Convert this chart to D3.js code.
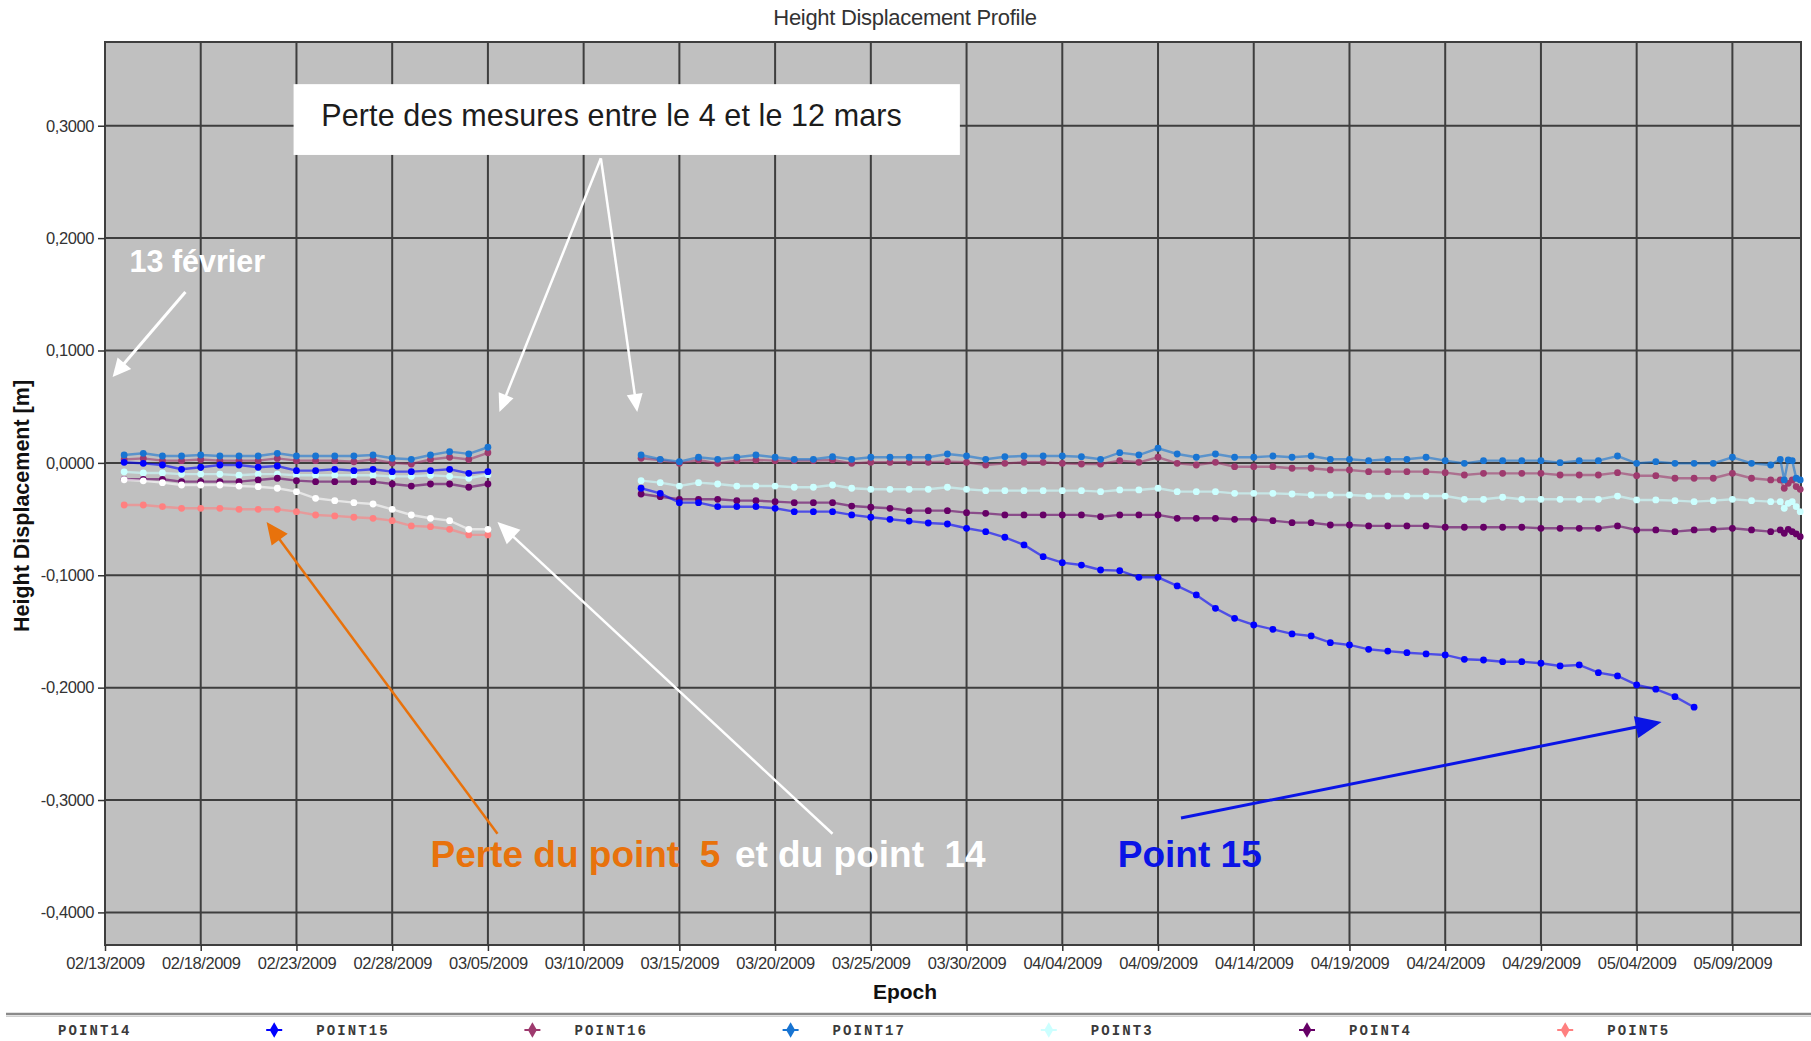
<!DOCTYPE html>
<html>
<head>
<meta charset="utf-8">
<script src="https://cdn.jsdelivr.net/npm/d3@7"></script>
<style>
  html, body { margin: 0; padding: 0; background: #ffffff; }
  svg { display: block; }
  text { white-space: pre; }
</style>
</head>
<body>
<svg id="chart" width="1811" height="1041"></svg>
<script>
// ---------------------------------------------------------------
// Height displacement of the monitored points (metres)
// ---------------------------------------------------------------
const seriesNames  = ["POINT14", "POINT15", "POINT16", "POINT17", "POINT3", "POINT4", "POINT5"];
const seriesColors = ["#ffffff", "#0000ff", "#9e3a6e", "#1874d2", "#ccffff", "#660066", "#ff8080"];

// Measurement epochs: daily 14 Feb - 5 Mar, gap, daily 13 Mar - 11 May, then a few sub-daily fixes
const epochsFeb = d3.utcDay.range(Date.UTC(2009, 1, 14), Date.UTC(2009, 2, 6));   // 20 days
const epochsMar = d3.utcDay.range(Date.UTC(2009, 2, 13), Date.UTC(2009, 4, 12));  // 60 days
const epochsEnd = ["2009-05-11T12:00Z", "2009-05-11T17:00Z", "2009-05-11T22:00Z",
                   "2009-05-12T03:00Z", "2009-05-12T08:00Z", "2009-05-12T13:00Z"].map(s => new Date(s));

// First period (14 Feb - 5 Mar)
const p14Feb = [-0.0150, -0.0160, -0.0176, -0.0197, -0.0197, -0.0197, -0.0206, -0.0212, -0.0226, -0.0256,
                -0.0315, -0.0336, -0.0354, -0.0366, -0.0413, -0.0464, -0.0493, -0.0514, -0.0591, -0.0591];
const p15Feb = [0.0005, -0.0004, -0.0019, -0.0057, -0.0039, -0.0019, -0.0019, -0.0039, -0.0028, -0.0069,
                -0.0069, -0.0057, -0.0069, -0.0057, -0.0078, -0.0078, -0.0069, -0.0057, -0.0093, -0.0078];
const p16Feb = [0.0030, 0.0040, 0.0020, 0.0020, 0.0030, 0.0020, 0.0020, 0.0020, 0.0040, 0.0020,
                0.0020, 0.0020, 0.0010, 0.0030, 0.0000, -0.0010, 0.0030, 0.0050, 0.0030, 0.0090];
const p17Feb = [0.0070, 0.0085, 0.0061, 0.0061, 0.0070, 0.0061, 0.0061, 0.0061, 0.0085, 0.0061,
                0.0061, 0.0061, 0.0061, 0.0070, 0.0041, 0.0032, 0.0070, 0.0100, 0.0080, 0.0139];
const p3Feb  = [-0.0080, -0.0090, -0.0090, -0.0100, -0.0100, -0.0100, -0.0110, -0.0100, -0.0100, -0.0110,
                -0.0110, -0.0110, -0.0110, -0.0110, -0.0120, -0.0120, -0.0110, -0.0120, -0.0137, -0.0105];
const p4Feb  = [-0.0146, -0.0146, -0.0146, -0.0167, -0.0167, -0.0167, -0.0167, -0.0152, -0.0137, -0.0158,
                -0.0167, -0.0167, -0.0167, -0.0167, -0.0188, -0.0206, -0.0188, -0.0188, -0.0217, -0.0188];
const p5Feb  = [-0.0375, -0.0375, -0.0390, -0.0404, -0.0404, -0.0404, -0.0413, -0.0413, -0.0413, -0.0434,
                -0.0464, -0.0472, -0.0484, -0.0493, -0.0514, -0.0561, -0.0568, -0.0591, -0.0641, -0.0641];

// Second period (13 Mar onwards)
const p15Mar = [-0.0226, -0.0271, -0.0354, -0.0354, -0.0390, -0.0390, -0.0390, -0.0404, -0.0434, -0.0434,
                -0.0434, -0.0463, -0.0484, -0.0502, -0.0518, -0.0535, -0.0544, -0.0582, -0.0612, -0.0662,
                -0.0730, -0.0835, -0.0888, -0.0909, -0.0953, -0.0959, -0.1018, -0.1018, -0.1095, -0.1175,
                -0.1294, -0.1383, -0.1442, -0.1481, -0.1522, -0.1540, -0.1600, -0.1620, -0.1659, -0.1675,
                -0.1689, -0.1700, -0.1709, -0.1748, -0.1754, -0.1769, -0.1769, -0.1783, -0.1807, -0.1798,
                -0.1867, -0.1896, -0.1976, -0.2014, -0.2080, -0.2174];
const p16Mar = [0.0041, 0.0026, -0.0004, 0.0026, -0.0004, 0.0020, 0.0026, 0.0020, 0.0020, 0.0020,
                0.0026, -0.0004, 0.0005, 0.0005, 0.0005, 0.0005, 0.0011, 0.0005, -0.0019, -0.0004,
                0.0005, 0.0005, -0.0004, -0.0010, -0.0010, 0.0020, 0.0005, 0.0050, -0.0004, -0.0019,
                0.0005, -0.0034, -0.0034, -0.0034, -0.0048, -0.0048, -0.0063, -0.0063, -0.0078, -0.0078,
                -0.0078, -0.0078, -0.0087, -0.0108, -0.0093, -0.0093, -0.0093, -0.0093, -0.0108, -0.0108,
                -0.0108, -0.0087, -0.0114, -0.0114, -0.0137, -0.0137, -0.0137, -0.0093, -0.0137, -0.0152];
const p17Mar = [0.0070, 0.0032, 0.0011, 0.0050, 0.0032, 0.0050, 0.0070, 0.0050, 0.0032, 0.0032,
                0.0055, 0.0032, 0.0050, 0.0050, 0.0050, 0.0050, 0.0079, 0.0061, 0.0032, 0.0055,
                0.0061, 0.0061, 0.0061, 0.0055, 0.0032, 0.0091, 0.0070, 0.0130, 0.0079, 0.0050,
                0.0079, 0.0050, 0.0050, 0.0061, 0.0050, 0.0061, 0.0032, 0.0032, 0.0020, 0.0032,
                0.0032, 0.0050, 0.0020, -0.0004, 0.0020, 0.0020, 0.0020, 0.0020, 0.0002, 0.0020,
                0.0020, 0.0061, -0.0004, 0.0011, -0.0004, -0.0004, -0.0004, 0.0050, -0.0004, -0.0019];
const p3Mar  = [-0.0158, -0.0176, -0.0206, -0.0176, -0.0188, -0.0206, -0.0206, -0.0206, -0.0217, -0.0217,
                -0.0197, -0.0226, -0.0235, -0.0235, -0.0235, -0.0235, -0.0217, -0.0235, -0.0247, -0.0247,
                -0.0247, -0.0247, -0.0247, -0.0247, -0.0256, -0.0241, -0.0241, -0.0226, -0.0256, -0.0256,
                -0.0256, -0.0271, -0.0271, -0.0271, -0.0277, -0.0286, -0.0286, -0.0286, -0.0295, -0.0295,
                -0.0295, -0.0295, -0.0295, -0.0324, -0.0324, -0.0306, -0.0324, -0.0324, -0.0324, -0.0324,
                -0.0324, -0.0295, -0.0330, -0.0330, -0.0336, -0.0345, -0.0336, -0.0324, -0.0336, -0.0345];
const p4Mar  = [-0.0277, -0.0301, -0.0324, -0.0324, -0.0324, -0.0336, -0.0336, -0.0345, -0.0354, -0.0354,
                -0.0354, -0.0384, -0.0395, -0.0404, -0.0425, -0.0425, -0.0425, -0.0443, -0.0449, -0.0463,
                -0.0463, -0.0463, -0.0463, -0.0463, -0.0479, -0.0463, -0.0463, -0.0463, -0.0493, -0.0493,
                -0.0493, -0.0502, -0.0502, -0.0514, -0.0532, -0.0532, -0.0553, -0.0553, -0.0561, -0.0561,
                -0.0561, -0.0561, -0.0573, -0.0573, -0.0573, -0.0573, -0.0573, -0.0582, -0.0582, -0.0582,
                -0.0582, -0.0561, -0.0597, -0.0597, -0.0612, -0.0597, -0.0591, -0.0582, -0.0597, -0.0612];

// Final sub-daily fixes (11-12 May)
const p16End = [-0.0152, -0.0226, -0.0182, -0.0152, -0.0211, -0.0235];
const p17End = [0.0032, -0.0152, 0.0026, 0.0020, -0.0137, -0.0152];
const p3End  = [-0.0345, -0.0404, -0.0360, -0.0345, -0.0390, -0.0434];
const p4End  = [-0.0597, -0.0626, -0.0591, -0.0612, -0.0632, -0.0657];

// Axis ticks
const yTicks = [-0.4, -0.3, -0.2, -0.1, 0, 0.1, 0.2, 0.3];
const xStart = new Date(Date.UTC(2009, 1, 13));
const xEnd   = new Date(Date.UTC(2009, 4, 12, 14));
const xTickDates = d3.utcDay.range(xStart, xEnd, 5);

// ---------------------------------------------------------------
// Build the segments of each series (a new segment after a data gap)
// ---------------------------------------------------------------
function seg(epochs, values) {
  return values.map((v, i) => ({ t: epochs[i], v }));
}
const seriesSegments = [
  [seg(epochsFeb, p14Feb)],
  [seg(epochsFeb, p15Feb), seg(epochsMar, p15Mar)],
  [seg(epochsFeb, p16Feb), seg(epochsMar, p16Mar).concat(seg(epochsEnd, p16End))],
  [seg(epochsFeb, p17Feb), seg(epochsMar, p17Mar).concat(seg(epochsEnd, p17End))],
  [seg(epochsFeb, p3Feb),  seg(epochsMar, p3Mar).concat(seg(epochsEnd, p3End))],
  [seg(epochsFeb, p4Feb),  seg(epochsMar, p4Mar).concat(seg(epochsEnd, p4End))],
  [seg(epochsFeb, p5Feb)]
];

// ---------------------------------------------------------------
// Layout and scales
// ---------------------------------------------------------------
const svg = d3.select("#chart");
const plot = { left: 105, right: 1801, top: 42, bottom: 945 };
const sansFont = "'Liberation Sans', Arial, sans-serif";

const x = d3.scaleUtc().domain([xStart, xEnd]).range([plot.left, plot.right]);
const y = d3.scaleLinear().domain([-0.429, 0.3745]).range([plot.bottom, plot.top]);
const at = (days, v) => [x(new Date(xStart.getTime() + days * 864e5)), y(v)];

const locale = d3.formatLocale({ decimal: ",", thousands: ".", grouping: [3], currency: ["", ""], minus: "-" });
const fmtY = locale.format(".4f");

// Plot background
svg.append("rect")
  .attr("x", plot.left).attr("y", plot.top)
  .attr("width", plot.right - plot.left).attr("height", plot.bottom - plot.top)
  .attr("fill", "#c0c0c0");

// Grid
const grid = svg.append("g").attr("stroke", "#3e3e3e").attr("stroke-width", 2);
grid.selectAll(".vg").data(xTickDates).join("line")
  .attr("x1", d => x(d)).attr("x2", d => x(d))
  .attr("y1", plot.top).attr("y2", plot.bottom);
grid.selectAll(".hg").data(yTicks).join("line")
  .attr("x1", plot.left).attr("x2", plot.right)
  .attr("y1", d => y(d)).attr("y2", d => y(d));

// Frame
svg.append("rect")
  .attr("x", plot.left).attr("y", plot.top)
  .attr("width", plot.right - plot.left).attr("height", plot.bottom - plot.top)
  .attr("fill", "none").attr("stroke", "#3e3e3e").attr("stroke-width", 2);

// Axes
const yAxis = svg.append("g")
  .attr("transform", `translate(${plot.left},0)`)
  .call(d3.axisLeft(y).tickValues(yTicks).tickFormat(fmtY).tickSize(7).tickPadding(4));
const xAxis = svg.append("g")
  .attr("transform", `translate(0,${plot.bottom})`)
  .call(d3.axisBottom(x).tickValues(xTickDates).tickFormat(d3.utcFormat("%m/%d/%Y")).tickSize(6).tickPadding(6));
[yAxis, xAxis].forEach(a => {
  a.select(".domain").remove();
  a.selectAll(".tick line").attr("stroke", "#333").attr("stroke-width", 1.5);
  a.selectAll(".tick text")
    .attr("fill", "#333").style("font-family", sansFont).style("font-size", "16.5px")
    .style("letter-spacing", "-0.4px");
});

// Titles
svg.append("text").attr("x", 905).attr("y", 25).attr("text-anchor", "middle")
  .style("font-family", sansFont).style("font-size", "22px").style("letter-spacing", "-0.3px")
  .attr("fill", "#333").text("Height Displacement Profile");
svg.append("text").attr("x", 905).attr("y", 999).attr("text-anchor", "middle")
  .style("font-family", sansFont).style("font-size", "21px").style("font-weight", "bold")
  .attr("fill", "#111").text("Epoch");
svg.append("text").attr("transform", "translate(29,506) rotate(-90)").attr("text-anchor", "middle")
  .style("font-family", sansFont).style("font-size", "21.5px").style("font-weight", "bold")
  .attr("fill", "#111").text("Height Displacement [m]");

// ---------------------------------------------------------------
// Series: lines and markers
// ---------------------------------------------------------------
const line = d3.line().x(d => x(d.t)).y(d => y(d.v));
const drawOrder = [4, 6, 5, 0, 2, 3, 1];
const seriesLayer = svg.append("g");
drawOrder.forEach(i => {
  const g = seriesLayer.append("g");
  seriesSegments[i].forEach(s => {
    g.append("path").datum(s).attr("d", line)
      .attr("fill", "none").attr("stroke", seriesColors[i])
      .attr("stroke-width", 2.4).attr("stroke-opacity", 0.6);
  });
  g.selectAll("circle").data(seriesSegments[i].flat()).join("circle")
    .attr("cx", d => x(d.t)).attr("cy", d => y(d.v)).attr("r", 3.4)
    .attr("fill", seriesColors[i]);
});

// ---------------------------------------------------------------
// Annotations
// ---------------------------------------------------------------
const notes = svg.append("g");
function arrow(from, to, color, width, headLen, headHalf) {
  const dx = to[0] - from[0], dy = to[1] - from[1];
  const len = Math.hypot(dx, dy), ux = dx / len, uy = dy / len;
  const bx = to[0] - ux * headLen, by = to[1] - uy * headLen;
  notes.append("line")
    .attr("x1", from[0]).attr("y1", from[1]).attr("x2", bx + ux * 2).attr("y2", by + uy * 2)
    .attr("stroke", color).attr("stroke-width", width);
  notes.append("polygon")
    .attr("points", [[to[0], to[1]], [bx - uy * headHalf, by + ux * headHalf], [bx + uy * headHalf, by - ux * headHalf]]
      .map(p => p.join(",")).join(" "))
    .attr("fill", color);
}

// Box: missing measurements between 4 and 12 March
const boxTL = at(9.85, 0.337), boxBR = at(44.65, 0.274);
notes.append("rect")
  .attr("x", boxTL[0]).attr("y", boxTL[1])
  .attr("width", boxBR[0] - boxTL[0]).attr("height", boxBR[1] - boxTL[1])
  .attr("fill", "#ffffff");
const boxText = at(11.3, 0.2995);
notes.append("text").attr("x", boxText[0]).attr("y", boxText[1])
  .style("font-family", sansFont).style("font-size", "30.5px").style("letter-spacing", "0.1px")
  .attr("fill", "#1c1c1c")
  .text("Perte des mesures entre le 4 et le 12 mars");
arrow(at(25.9, 0.271), at(20.6, 0.0453), "#ffffff", 2.5, 18, 8);
arrow(at(25.9, 0.271), at(27.8, 0.0453), "#ffffff", 2.5, 18, 8);

// 13 February start
const febText = at(1.28, 0.1695);
notes.append("text").attr("x", febText[0]).attr("y", febText[1])
  .style("font-family", sansFont).style("font-size", "30.5px").style("font-weight", "bold")
  .attr("fill", "#ffffff").text("13 février");
arrow(at(4.2, 0.152), at(0.4, 0.0765), "#ffffff", 3, 18, 9);

// Lost points 5 and 14
arrow(at(20.5, -0.330), at(8.44, -0.0526), "#e8720c", 2.5, 22, 10);
arrow(at(38.0, -0.330), at(20.5, -0.0526), "#ffffff", 2.5, 22, 10);
const lossText = at(17.0, -0.3594);
notes.append("text").attr("x", lossText[0]).attr("y", lossText[1])
  .style("font-family", sansFont).style("font-size", "37px").style("font-weight", "bold")
  .attr("fill", "#e8720c").text("Perte du point  5");
const lossText2 = at(32.9, -0.3594);
notes.append("text").attr("x", lossText2[0]).attr("y", lossText2[1])
  .style("font-family", sansFont).style("font-size", "37px").style("font-weight", "bold")
  .attr("fill", "#ffffff").text("et du point  14");

// Point 15 subsidence
arrow(at(56.2, -0.316), at(81.3, -0.2306), "#0a14e6", 3, 26, 11);
const p15Text = at(52.9, -0.3594);
notes.append("text").attr("x", p15Text[0]).attr("y", p15Text[1])
  .style("font-family", sansFont).style("font-size", "37px").style("font-weight", "bold")
  .attr("fill", "#0a14e6").text("Point 15");

// ---------------------------------------------------------------
// Legend
// ---------------------------------------------------------------
svg.append("line").attr("x1", 6).attr("x2", 1811).attr("y1", 1014).attr("y2", 1014)
  .attr("stroke", "#8a8a8a").attr("stroke-width", 2.5);
svg.append("line").attr("x1", 6).attr("x2", 1811).attr("y1", 1016.5).attr("y2", 1016.5)
  .attr("stroke", "#d0d0d0").attr("stroke-width", 1);

const legend = svg.append("g").selectAll("g").data(seriesNames).join("g")
  .attr("transform", (d, i) => `translate(${16 + i * 258.2},1030)`);
legend.append("line").attr("x1", -8).attr("x2", 8).attr("y1", 0).attr("y2", 0)
  .attr("stroke", (d, i) => seriesColors[i]).attr("stroke-width", 2);
legend.append("path").attr("d", d3.symbol(d3.symbolDiamond, 70))
  .attr("fill", (d, i) => seriesColors[i]);
legend.append("text").attr("x", 42).attr("y", 5)
  .style("font-family", "'Liberation Mono', 'Courier New', monospace")
  .style("font-size", "14px").style("font-weight", "bold").style("letter-spacing", "2.1px")
  .attr("fill", "#3a3a3a").text(d => d);
</script>
</body>
</html>
